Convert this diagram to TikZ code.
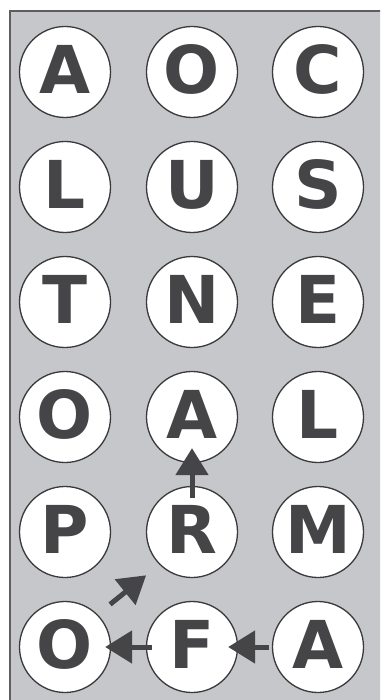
\documentclass[tikz,border=0pt]{standalone}
\usepackage{fontspec}
\setmainfont{DejaVu Sans}
\usetikzlibrary{positioning, arrows.meta, calc}
\definecolor{bgPanel}{HTML}{C6C7CB}
\definecolor{borderPanel}{HTML}{5E5E60}
\definecolor{borderCircle}{HTML}{3A3A3C}
\definecolor{textMain}{HTML}{454547}
\definecolor{arrowColor}{HTML}{454547}
\tikzset{
  panel/.style={
    fill=bgPanel, draw=borderPanel, line width=1.6pt,
  },
  letterdisc/.style={
    circle, draw=borderCircle, fill=white, line width=1.3pt,
    inner sep=0pt, minimum size=91pt, text depth=6pt,
    font=\fontsize{66}{66}\selectfont\bfseries, text=textMain,
  },
  pathArrow/.style={
    -{Triangle[length=27pt, width=32pt]}, line width=5pt, color=arrowColor,
  },
}

\begin{document}
\begin{tikzpicture}[x=1pt, y=-1pt]

  % === Page frame ===
  \useasboundingbox (0,0) rectangle (380,700);
  \clip (0,0) rectangle (380,700);
  \draw[panel] (10,11) rectangle (400,720);

  % === Letter grid (6 rows, 3 columns) ===
  \foreach \row/\la/\lb/\lc in {1/A/O/C, 2/L/U/S, 3/T/N/E, 4/O/A/L, 5/P/R/M, 6/O/F/A} {
    \node[letterdisc] (c\row1) at (65,  {72+115*(\row-1)}) {\la};
    \node[letterdisc] (c\row2) at (192, {72+115*(\row-1)}) {\lb};
    \node[letterdisc] (c\row3) at (318, {72+115*(\row-1)}) {\lc};
  }

  % === Word path: A -> F -> O -> R -> A ===
  \draw[pathArrow, shorten <=3pt, shorten >=-10pt] (c63.west) -- (c62.east);
  \draw[pathArrow, shorten <=-6pt, shorten >=-6pt] (c62.west) -- (c61.east);
  \draw[pathArrow, shorten <=16pt, shorten >=17pt] (c61.45) -- (c52.225);
  \draw[pathArrow, shorten <=-12pt, shorten >=-15pt] (c52.north) -- (c42.south);

\end{tikzpicture}
\end{document}
